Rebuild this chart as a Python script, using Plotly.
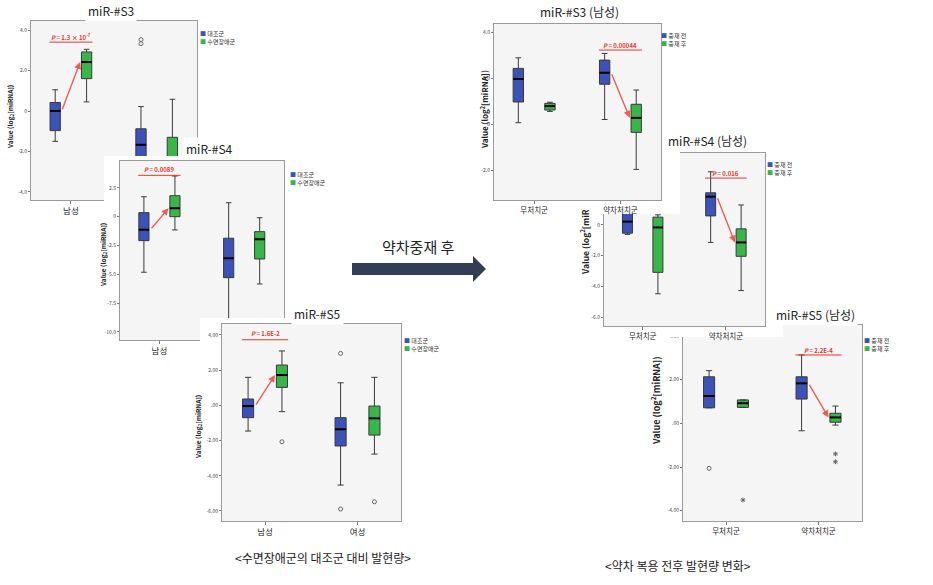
import plotly.graph_objects as go

W, H = 933, 585
FONT = "Noto Sans CJK KR, Noto Sans, sans-serif"

# ---------------- data ----------------
cats_left = ["남성", "여성"]
cats_right = ["무처치군", "약차처치군"]
legend_left = ["대조군", "수면장애군"]
legend_right = ["중재 전", "중재 후"]

# (lower whisker, Q1, median, Q3, upper whisker) for each category
s3_ctrl = [(-1.50, -0.97, 0.00, 0.42, 1.05), (-4.00, -2.90, -1.67, -0.88, 0.22)]
s3_sleep = [(0.45, 1.60, 2.42, 2.92, 3.05), (-3.90, -3.00, -2.40, -1.30, 0.58)]
s3_ctrl_out = [[], [3.33, 3.53]]
s3_sleep_out = [[], []]

s4_ctrl = [(-4.82, -2.08, -1.13, 0.35, 1.73), (-9.80, -5.29, -3.61, -1.87, 1.21)]
s4_sleep = [(-1.15, 0.00, 0.73, 1.82, 3.53), (-5.84, -3.67, -1.96, -1.30, -0.09)]
s4_ctrl_out = [[], []]
s4_sleep_out = [[], []]

s5_ctrl = [(-1.46, -0.70, -0.04, 0.36, 1.59), (-4.53, -2.31, -1.36, -0.70, 1.28)]
s5_sleep = [(-0.36, 1.02, 1.72, 2.29, 3.09), (-2.77, -1.69, -0.74, -0.04, 1.59)]
s5_ctrl_out = [[], [2.95, -5.89]]
s5_sleep_out = [[-2.07], [-5.48]]

s3m_pre = [(0.06, 0.96, 1.96, 2.42, 2.88), (0.20, 1.73, 2.23, 2.78, 3.07)]
s3m_post = [(0.55, 0.61, 0.78, 0.90, 0.95), (-1.97, -0.36, 0.27, 0.86, 1.48)]
s4m_pre = [(-0.62, -0.54, 0.21, 1.10, 1.60), (-1.14, 0.58, 1.83, 2.08, 3.44)]
s4m_post = [(-4.47, -3.08, -0.17, 0.50, 0.65), (-4.26, -2.04, -1.14, -0.26, 1.29)]
s5m_pre = [(0.71, 0.71, 1.25, 2.13, 2.41), (-0.34, 1.11, 1.83, 2.13, 3.13)]
s5m_post = [(0.73, 0.73, 0.92, 1.07, 1.07), (-0.08, 0.05, 0.27, 0.46, 0.79)]
s5m_pre_out = [[-2.06], []]
s5m_post_out = [[-3.51], [-1.40, -1.76]]
empty_out = [[], []]

ticks_s3 = [4, 2, 0, -2, -4]
labels_s3 = ["4.0", "2.0", "0", "-2.0", "-4.0"]
ticks_s4 = [2.5, 0, -2.5, -5, -7.5, -10]
labels_s4 = ["2.5", "0", "-2.5", "-5.0", "-7.5", "-10.0"]
ticks_s5 = [4, 2, 0, -2, -4, -6]
labels_s5 = ["4.00", "2.00", ".00", "-2.00", "-4.00", "-6.00"]
ticks_s3m = [4, 2, 0, -2]
labels_s3m = ["4.0", "2.0", "0", "-2.0"]
ticks_s4m = [2, 0, -2, -4, -6]
labels_s4m = ["2.0", "0", "-2.0", "-4.0", "-6.0"]
ticks_s5m = [4, 2, 0, -2, -4]
labels_s5m = ["4.00", "2.00", ".00", "-2.00", "-4.00"]

p_s3 = "<b><i>P</i> = 1.3 × 10<sup>-7</sup></b>"
p_s4 = "<b><i>P</i> = 0.0089</b>"
p_s5 = "<b><i>P</i> = 1.6E-2</b>"
p_s3m = "<b><i>P</i> = 0.00044</b>"
p_s4m = "<b><i>P</i> = 0.016</b>"
p_s5m = "<b><i>P</i> = 2.2E-4</b>"

ytitle_left = "<b>Value (log<sub>2</sub>[miRNA])</b>"
ytitle_right = "<b>Value (log<sup>2</sup>[miRNA])</b>"
ytitle_right_cut = "<b>Value (log<sup>2</sup>[miR</b>"

BLUE = "#3d52b6"
GREEN = "#39b54a"
RED = "#e8362e"
ARROW_RED = "#ee5e56"

# ---------------- panel layout (pixel boxes) ----------------
panels = [
    dict(title="miR-#S3", title_xy=(111, 10), area=(31, 21, 197, 200), back=(0, 0, 300, 230),
         series=(s3_ctrl, s3_sleep), outs=(s3_ctrl_out, s3_sleep_out), syms=("circle-open", "circle-open"),
         cats=cats_left, xfont=8.5, legend=legend_left, legend_xy=(198, 38),
         yrange=[-4.4, 4.45], yticks=ticks_s3, ylabels=labels_s3,
         ytitle=ytitle_left, ytitle_xy=(10, 117), ytitle_size=6.5,
         ptext=p_s3, pcat=0, p_y=0.91, u_y=0.882),
    dict(title="miR-#S4", title_xy=(209, 148), area=(120, 161, 284, 340), back=(104, 156, 340, 360),
         series=(s4_ctrl, s4_sleep), outs=(s4_ctrl_out, s4_sleep_out), syms=("circle-open", "circle-open"),
         cats=cats_left, xfont=8.5, legend=legend_left, legend_xy=(288, 178),
         yrange=[-10.7, 4.83], yticks=ticks_s4, ylabels=labels_s4,
         ytitle=ytitle_left, ytitle_xy=(103, 255), ytitle_size=6.5,
         ptext=p_s4, pcat=0, p_y=0.95, u_y=0.92),
    dict(title="miR-#S5", title_xy=(317, 313), area=(222, 324, 401, 521), back=(200, 318, 470, 545),
         series=(s5_ctrl, s5_sleep), outs=(s5_ctrl_out, s5_sleep_out), syms=("circle-open", "circle-open"),
         cats=cats_left, xfont=8.5, legend=legend_left, legend_xy=(402, 344),
         yrange=[-6.57, 4.62], yticks=ticks_s5, ylabels=labels_s5,
         ytitle=ytitle_left, ytitle_xy=(198, 427), ytitle_size=6.5,
         ptext=p_s5, pcat=0, p_y=0.954, u_y=0.92),
    dict(title="miR-#S5 (남성)", title_xy=(815, 314), area=(683, 325, 862, 521), back=(640, 300, 933, 545),
         series=(s5m_pre, s5m_post), outs=(s5m_pre_out, s5m_post_out), syms=("circle-open", "asterisk-open"),
         cats=cats_right, xfont=7.5, legend=legend_right, legend_xy=(862, 344),
         yrange=[-4.47, 4.5], yticks=ticks_s5m, ylabels=labels_s5m,
         ytitle=ytitle_right, ytitle_xy=(656, 401), ytitle_size=9,
         ptext=p_s5m, pcat=1, p_y=0.872, u_y=0.847),
    dict(title="miR-#S4 (남성)", title_xy=(707, 140), area=(604, 153, 765, 326), back=(572, 128, 783, 337),
         series=(s4m_pre, s4m_post), outs=(empty_out, empty_out), syms=("circle-open", "asterisk-open"),
         cats=cats_right, xfont=7.5, legend=legend_right, legend_xy=(765, 169),
         yrange=[-6.56, 4.66], yticks=ticks_s4m, ylabels=labels_s4m,
         ytitle=ytitle_right_cut, ytitle_xy=(585, 242), ytitle_size=8.5,
         ptext=p_s4m, pcat=1, p_y=0.884, u_y=0.855),
    dict(title="miR-#S3 (남성)", title_xy=(579, 11), area=(494, 24, 661, 200), back=(478, 0, 680, 214),
         series=(s3m_pre, s3m_post), outs=(empty_out, empty_out), syms=("circle-open", "asterisk-open"),
         cats=cats_right, xfont=7.5, legend=legend_right, legend_xy=(659, 40),
         yrange=[-3.3, 4.35], yticks=ticks_s3m, ylabels=labels_s3m,
         ytitle=ytitle_right, ytitle_xy=(484, 110), ytitle_size=8,
         ptext=p_s3m, pcat=1, p_y=0.88, u_y=0.852),
]

XR = [-0.465, 1.47]
OFF = 0.183
BW = 0.12


def axn(n):
    return "" if n == 1 else str(n)


def dom_x(a, b):
    return [max(0.0, a / W), min(1.0, b / W)]


def dom_y(top, bottom):
    return [max(0.0, 1 - bottom / H), min(1.0, 1 - top / H)]


fig = go.Figure()
shapes, annotations, axes = [], [], {}

for idx, p in enumerate(panels):
    nb, nm = 2 * idx + 1, 2 * idx + 2
    xb, yb = "x" + axn(nb), "y" + axn(nb)
    xm, ym = "x" + axn(nm), "y" + axn(nm)

    # white backing panel (occludes earlier panels)
    bx0, by0, bx1, by1 = p["back"]
    axes["xaxis" + axn(nb)] = dict(domain=dom_x(bx0, bx1), range=[0, 1], visible=False,
                                    anchor=yb, fixedrange=True)
    axes["yaxis" + axn(nb)] = dict(domain=dom_y(by0, by1), range=[0, 1], visible=False,
                                    anchor=xb, fixedrange=True)
    fig.add_trace(go.Scatter(x=[None], y=[None], xaxis=xb, yaxis=yb, showlegend=False,
                             hoverinfo="skip"))
    shapes.append(dict(type="rect", xref=xb, yref=yb, x0=0, x1=1, y0=0, y1=1,
                       fillcolor="white", line=dict(width=0), layer="below"))

    # main plot area
    ax0, ay0, ax1, ay1 = p["area"]
    axes["xaxis" + axn(nm)] = dict(
        domain=dom_x(ax0, ax1), range=XR, tickvals=[0, 1], ticktext=p["cats"], anchor=ym,
        showline=True, mirror=True, linecolor="#9a9a9a", linewidth=1, ticks="outside",
        ticklen=3, tickcolor="#777", tickfont=dict(size=p["xfont"], color="#222", family=FONT),
        showgrid=False, zeroline=False, fixedrange=True)
    axes["yaxis" + axn(nm)] = dict(
        domain=dom_y(ay0, ay1), range=p["yrange"], tickvals=p["yticks"], ticktext=p["ylabels"],
        anchor=xm, showline=True, mirror=True, linecolor="#9a9a9a", linewidth=1,
        ticks="outside", ticklen=2, tickcolor="#777",
        tickfont=dict(size=5, color="#444", family=FONT),
        showgrid=False, zeroline=False, fixedrange=True)

    colors = [BLUE, GREEN]
    med_x, med_y = [], []
    for g, (series, outs, sym) in enumerate(zip(p["series"], p["outs"], p["syms"])):
        for i, st in enumerate(series):
            pos = i + (-OFF if g == 0 else OFF)
            lf, q1, md, q3, uf = st
            fig.add_trace(go.Box(
                x=[pos], q1=[q1], median=[md], q3=[q3], lowerfence=[lf], upperfence=[uf],
                width=BW, whiskerwidth=0.55, fillcolor=colors[g],
                line=dict(color="#3a3a3a", width=1), boxpoints=False,
                xaxis=xm, yaxis=ym, showlegend=False, hoverinfo="skip"))
            med_x += [pos - BW / 2, pos + BW / 2, None]
            med_y += [md, md, None]
            if outs[i]:
                fig.add_trace(go.Scatter(
                    x=[pos] * len(outs[i]), y=outs[i], mode="markers",
                    marker=dict(symbol=sym, size=4, color="#666", line=dict(width=1, color="#666")),
                    xaxis=xm, yaxis=ym, showlegend=False, hoverinfo="skip"))
    fig.add_trace(go.Scatter(x=med_x, y=med_y, mode="lines", line=dict(color="black", width=2),
                             xaxis=xm, yaxis=ym, showlegend=False, hoverinfo="skip"))

    # significance arrow from control/pre median to treated/post median
    c = p["pcat"]
    b_med = p["series"][0][c][2]
    g_med = p["series"][1][c][2]
    annotations.append(dict(xref=xm, yref=ym, axref=xm, ayref=ym,
                            x=c + OFF - 0.075, y=g_med, ax=c - OFF + 0.075, ay=b_med,
                            showarrow=True, arrowhead=2, arrowsize=1, arrowwidth=1.4,
                            arrowcolor=ARROW_RED, text="", standoff=0))
    annotations.append(dict(xref=xm, yref=ym + " domain", x=c, y=p["p_y"], text=p["ptext"],
                            showarrow=False, font=dict(size=6, color=RED, family=FONT),
                            xanchor="center", yanchor="middle"))
    shapes.append(dict(type="line", xref=xm, yref=ym + " domain", x0=c - 0.25, x1=c + 0.25,
                       y0=p["u_y"], y1=p["u_y"], line=dict(color=RED, width=1)))

    # title
    tx, ty = p["title_xy"]
    annotations.append(dict(xref="paper", yref="paper", x=tx / W, y=1 - ty / H, text=p["title"],
                            showarrow=False, font=dict(size=12, color="#222", family=FONT),
                            xanchor="center", yanchor="middle", bgcolor="white", borderpad=2))
    # legend
    lx, ly = p["legend_xy"]
    leg = (f"<span style='color:{BLUE}'>■</span> {p['legend'][0]}<br>"
           f"<span style='color:{GREEN}'>■</span> {p['legend'][1]}")
    annotations.append(dict(xref="paper", yref="paper", x=lx / W, y=1 - ly / H, text=leg,
                            showarrow=False, align="left", xanchor="left", yanchor="middle",
                            font=dict(size=6, color="#333", family=FONT)))
    # y-axis title
    yx, yy = p["ytitle_xy"]
    annotations.append(dict(xref="paper", yref="paper", x=yx / W, y=1 - yy / H, text=p["ytitle"],
                            textangle=-90, showarrow=False, xanchor="center", yanchor="middle",
                            font=dict(size=p["ytitle_size"], color="#222", family=FONT)))

# big arrow between the two groups
arrow_px = [(352, 263), (473, 263), (473, 256), (486, 269), (473, 282), (473, 275), (352, 275)]
path = "M " + " L ".join(f"{x / W:.5f},{1 - y / H:.5f}" for x, y in arrow_px) + " Z"
shapes.append(dict(type="path", xref="paper", yref="paper", path=path,
                   fillcolor="#323e55", line=dict(width=0), layer="above"))
annotations.append(dict(xref="paper", yref="paper", x=418 / W, y=1 - 246 / H, text="약차중재 후",
                        showarrow=False, font=dict(size=15, color="#222", family=FONT)))

# captions
annotations.append(dict(xref="paper", yref="paper", x=233 / W, y=1 - 568 / H,
                        text="&lt;수면장애군의 대조군 대비 발현량&gt;", showarrow=False,
                        font=dict(size=12, color="#222", family=FONT)))
annotations.append(dict(xref="paper", yref="paper", x=753 / W, y=1 - 576 / H,
                        text="&lt;약차 복용 전후 발현량 변화&gt;", showarrow=False,
                        font=dict(size=12, color="#222", family=FONT)))

fig.update_layout(width=W, height=H, margin=dict(l=0, r=0, t=0, b=0),
                  paper_bgcolor="white", plot_bgcolor="#f5f5f5", showlegend=False,
                  font=dict(family=FONT), shapes=shapes, annotations=annotations, **axes)

fig.write_html("out.html")
